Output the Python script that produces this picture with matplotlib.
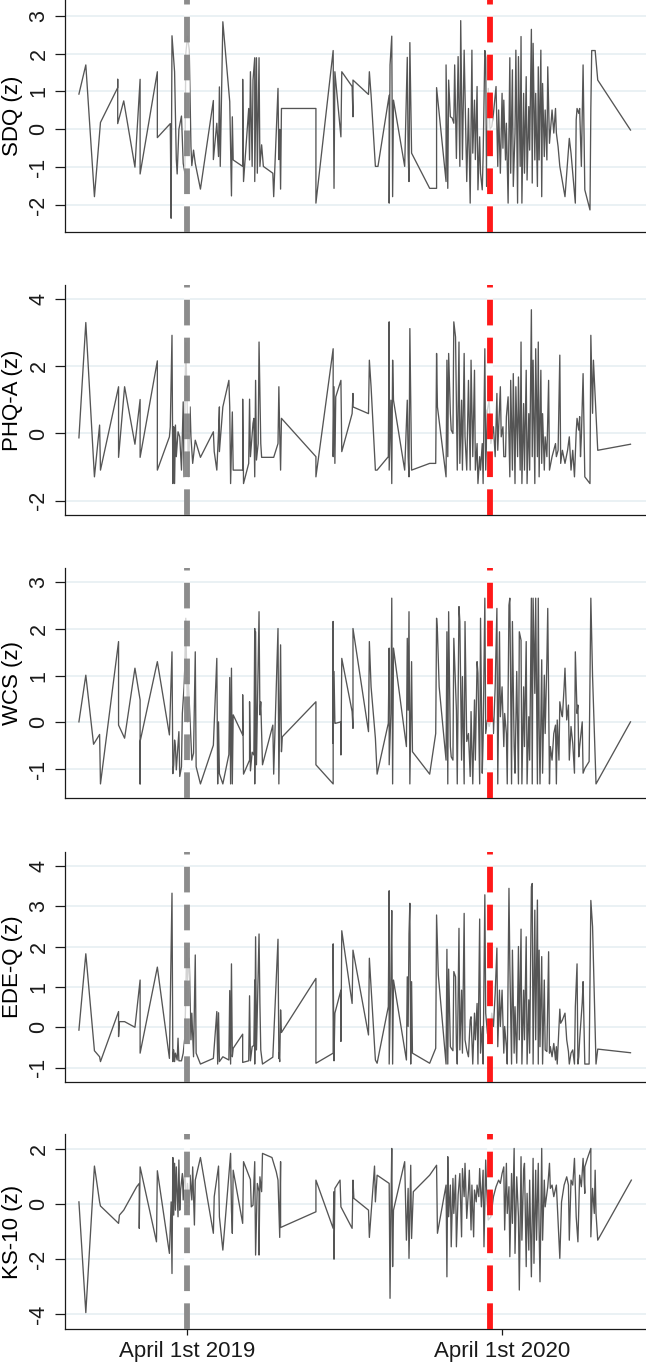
import numpy as np
import matplotlib
matplotlib.use("Agg")
import matplotlib.pyplot as plt

plt.rcParams['font.family'] = ['Liberation Sans', 'DejaVu Sans']

# ---------------- data (day offset from 2019-04-01, z-score) ----------------
sdq_day = [-125, -117, -107, -100, -80, -80, -80, -73, -60, -54,
           -54, -34, -34, -19, -18, -17, -14, -12, -11, -9,
           -6, -4, -2, -1, 1, 3, 5, 6, 8, 10,
           16, 31, 31, 35, 37, 38, 39, 42, 50, 52,
           53, 54, 65, 65, 66, 72, 73, 74, 76, 77,
           79, 79, 81, 82, 84, 85, 87, 89, 100, 101,
           106, 107, 108, 109, 110, 150, 150, 170, 171, 172,
           179, 180, 192, 193, 193, 211, 212, 214, 219, 222,
           235, 235, 236, 238, 239, 240, 253, 256, 257, 258,
           259, 261, 282, 290, 290, 301, 301, 303, 304, 306,
           308, 310, 311, 312, 313, 315, 317, 318, 320, 322,
           323, 325, 327, 329, 331, 332, 334, 335, 337, 338,
           340, 341, 343, 344, 346, 347, 348, 350, 352, 354,
           356, 359, 361, 362, 364, 366, 367, 368, 370, 371,
           373, 375, 376, 378, 379, 381, 382, 384, 385, 387,
           388, 389, 391, 392, 394, 395, 397, 398, 400, 401,
           402, 404, 405, 407, 408, 409, 411, 412, 413, 415,
           416, 418, 419, 421, 424, 426, 428, 429, 431, 433,
           439, 444, 446, 451, 452, 453, 455, 456, 458, 460,
           462, 468, 469, 470, 474, 477, 515]
sdq_z = [0.93, 1.70, -1.78, 0.18, 1.10, 1.32, 0.15, 0.75, -1.00, 1.32,
         -1.18, 1.52, -0.22, 0.15, -2.35, 2.47, 1.52, -0.80, -1.18, 0.00,
         0.35, -0.90, -1.16, 2.00, 2.46, 2.09, -0.46, -0.96, -0.55, -0.90,
         -1.58, 0.76, -0.80, 0.16, -0.72, 1.12, -0.98, 2.84, 0.73, -1.76,
         0.33, -0.81, -0.98, 1.32, -1.38, 0.55, -0.81, 1.52, -0.98, 1.30,
         1.89, -1.38, 1.89, -1.16, 1.89, -0.98, -0.41, -0.98, -1.16, -1.78,
         1.08, -0.80, 0.00, -1.58, 0.55, 0.55, -1.95, 2.08, -1.56, 1.52,
         -0.20, 1.52, 1.13, 0.33, 1.30, 0.92, 1.52, 0.90, -0.98, -0.98,
         0.90, -1.95, 1.70, 2.46, -1.78, 0.77, -0.98, 1.90, -0.63, -1.38,
         2.29, -0.63, -1.56, -1.56, 1.10, -1.38, 1.70, -1.56, 1.30, 0.33,
         0.30, 0.16, 1.70, 0.42, -0.77, 1.92, -0.98, 2.87, -0.80, 2.09,
         0.95, -1.38, 0.55, -1.95, 2.09, -0.63, 0.77, -0.80, 1.13, -1.60,
         -0.20, -1.16, -1.60, -0.72, 2.08, 1.90, -1.51, 1.08, 0.00, 0.07,
         0.42, 1.13, -0.98, 0.51, -1.16, 0.95, -0.50, 0.77, -0.81, 0.16,
         -1.95, 1.89, -1.16, 1.57, -1.51, -0.10, 2.09, -1.95, 1.92, -0.98,
         2.45, -1.95, 0.95, -1.16, 1.39, -1.34, 0.60, -0.55, 2.64, -1.42,
         2.27, -0.81, 0.95, -1.51, 1.65, -0.81, 2.09, -1.78, 1.21, -0.72,
         0.51, -0.81, 1.65, -0.37, 0.51, -0.10, 0.55, -0.10, -0.46, -0.98,
         -1.78, -0.24, -0.63, -1.95, 0.25, 0.55, 0.42, 0.55, -0.98, 1.70,
         -1.60, -2.13, 0.55, 2.08, 2.08, 1.30, -0.02]

phq_day = [-125, -117, -107, -101, -100, -79, -79, -72, -60, -54,
           -54, -34, -34, -20, -19, -17, -16, -15, -15, -14,
           -13, -12, -10, -8, -6, -4, -3, -1, 1, 2,
           4, 5, 7, 10, 16, 31, 32, 35, 37, 38,
           38, 42, 49, 50, 51, 53, 54, 65, 65, 66,
           72, 73, 74, 77, 78, 79, 80, 81, 83, 84,
           86, 87, 101, 106, 107, 108, 109, 110, 150, 150,
           170, 170, 171, 172, 173, 179, 180, 192, 193, 193,
           211, 212, 214, 219, 221, 234, 235, 235, 237, 238,
           239, 240, 253, 256, 257, 258, 259, 261, 282, 289,
           290, 291, 301, 302, 303, 304, 306, 307, 309, 310,
           312, 313, 314, 316, 317, 319, 320, 322, 323, 325,
           327, 329, 330, 332, 334, 335, 337, 338, 340, 341,
           343, 344, 346, 347, 349, 351, 353, 356, 358, 360,
           361, 364, 365, 367, 368, 370, 371, 373, 375, 376,
           378, 379, 381, 382, 384, 385, 387, 388, 389, 391,
           392, 394, 395, 397, 398, 400, 401, 402, 404, 405,
           407, 408, 409, 411, 412, 413, 415, 416, 418, 420,
           421, 424, 426, 428, 429, 431, 433, 434, 436, 439,
           442, 444, 446, 448, 450, 452, 453, 455, 456, 457,
           458, 460, 462, 468, 469, 471, 472, 477, 515]
phq_z = [-0.13, 3.30, -1.29, 0.25, -1.09, 1.39, -0.71, 1.39, -0.32, 1.01,
         -0.71, 2.16, -1.09, -0.10, 0.20, 2.92, -1.49, 0.20, -0.30, -1.49,
         0.25, -0.69, 0.05, -0.10, -1.09, 0.94, -1.29, 2.70, 0.40, -1.29,
         0.79, -0.10, -0.89, -0.20, -0.71, 0.05, -0.54, -1.09, 0.05, 0.79,
         -0.54, 0.79, 1.58, 0.79, -1.49, 0.64, -1.09, -1.09, 1.02, -1.49,
         -0.89, 1.02, -0.69, 0.30, 0.45, -1.29, 1.58, -0.79, -0.30, 2.72,
         -0.30, -0.71, -0.71, -0.30, 1.39, 0.00, -1.09, 0.45, -0.69, -1.29,
         2.52, -0.69, 1.39, -0.89, 1.09, 1.58, -0.54, 0.59, 1.19, 0.79,
         0.59, 2.18, 1.39, -1.09, -1.09, -0.69, 3.32, -1.09, 0.99, -1.49,
         2.18, 0.99, -1.09, 0.99, -0.69, -1.29, 3.12, -1.09, -0.89, -0.89,
         2.38, 0.79, -1.29, 2.18, -0.69, 2.38, 0.59, 0.10, 0.00, 3.32,
         2.87, 0.99, -1.09, 2.72, -0.89, 0.99, -1.09, 2.38, -0.10, -1.09,
         1.58, -1.09, 2.18, -0.69, 1.88, -1.09, -0.30, -1.49, -0.69, -1.09,
         -0.30, -1.49, 2.52, -1.09, 0.69, 0.99, -0.30, 0.20, -0.69, 1.19,
         -0.50, 1.39, -0.10, 0.20, -0.69, -0.69, 0.50, 1.09, -1.29, 1.58,
         -1.09, 1.78, -1.49, 1.39, -0.69, 1.68, -1.09, 2.72, -1.49, 0.89,
         -1.09, 1.88, -1.49, 0.59, -1.09, 3.68, -0.69, 2.18, -1.49, 2.52,
         -0.69, 2.72, -1.29, 1.88, -0.89, 0.59, -1.09, -0.10, -0.69, 1.58,
         -1.09, -0.69, -0.50, -0.30, -0.69, -0.50, 2.33, -0.89, -0.50, -0.89,
         -0.50, -0.10, -1.09, -0.50, -1.29, 0.05, 0.45, 0.10, 0.50, -0.69,
         -0.10, 1.78, -1.29, -1.49, 2.92, 0.60, 2.18, -0.50, -0.32]

wcs_day = [-125, -117, -108, -101, -100, -79, -79, -72, -60, -54,
           -54, -54, -34, -20, -17, -16, -15, -14, -13, -12,
           -10, -9, -8, -6, -5, -3, -2, -1, 1, 2,
           4, 6, 8, 10, 11, 16, 31, 35, 36, 37,
           38, 42, 49, 50, 51, 52, 53, 54, 65, 65,
           66, 73, 73, 74, 76, 78, 79, 79, 80, 81,
           84, 85, 86, 88, 100, 101, 106, 107, 108, 109,
           110, 111, 150, 150, 170, 170, 170, 171, 172, 173,
           179, 179, 180, 192, 193, 193, 211, 212, 214, 219,
           221, 234, 235, 235, 237, 238, 239, 240, 255, 256,
           257, 258, 259, 261, 262, 282, 289, 290, 291, 293,
           301, 302, 303, 304, 306, 307, 309, 310, 312, 313,
           314, 316, 317, 319, 320, 322, 323, 325, 327, 329,
           330, 332, 334, 335, 337, 338, 340, 341, 343, 344,
           346, 347, 349, 351, 352, 354, 356, 358, 360, 361,
           363, 364, 366, 368, 369, 371, 372, 374, 375, 377,
           378, 380, 381, 383, 385, 386, 388, 389, 391, 392,
           394, 395, 397, 398, 400, 401, 402, 404, 405, 407,
           408, 409, 410, 412, 413, 415, 416, 418, 419, 421,
           422, 424, 426, 428, 429, 430, 432, 433, 435, 436,
           438, 439, 441, 443, 444, 446, 448, 450, 451, 453,
           454, 455, 456, 459, 460, 462, 467, 469, 471, 475, 515]
wcs_z = [0.01, 1.01, -0.47, -0.26, -1.32, 1.73, -0.06, -0.34, 1.16, 0.48,
         -1.32, -0.41, 1.30, -0.27, 1.51, -1.10, -0.91, -0.38, -0.52, -1.02,
         -0.49, -0.20, -1.16, -0.95, 0.19, 0.76, 1.26, 2.23, 0.00, 0.87,
         0.05, -0.81, -0.66, 1.51, -0.95, -1.32, -0.49, 1.37, -1.32, 0.01,
         -1.10, -1.32, -0.69, 0.96, -1.32, 1.16, -1.32, 0.16, -0.27, 0.59,
         -1.11, -0.81, 0.44, -1.04, -0.64, -0.70, 2.01, -1.32, 1.94, -0.91,
         2.37, 0.16, 0.44, -0.91, -0.06, -1.11, 2.01, -1.32, 0.26, 1.66,
         -0.63, -0.31, 0.44, -0.91, -1.32, 2.16, -0.45, 1.09, -0.02, -0.02,
         0.01, -0.70, 1.37, 0.23, -0.13, 2.01, -0.20, 1.73, 0.76, -0.34,
         -1.11, -0.02, 1.59, -0.91, 0.19, 2.66, -1.32, 1.59, -0.52, 1.80,
         0.26, 2.37, -1.32, 1.30, -0.63, -1.11, -0.24, 2.23, 1.94, 0.76,
         -0.81, 1.94, -1.32, 2.37, -0.52, -0.74, -0.81, 1.80, 0.76, 0.26,
         -1.32, 2.48, 2.16, -0.81, 0.98, -1.32, 2.16, -0.41, -0.24, -1.16,
         0.23, -1.32, 0.48, -0.81, 1.30, 1.05, -1.32, 2.23, -1.09, -0.38,
         2.66, -0.24, 0.05, -0.09, -0.02, 0.34, -0.24, 0.76, 2.44, -1.32,
         1.94, 0.12, 0.76, -0.52, 0.19, -0.24, -1.32, 2.51, 2.66, -1.32,
         2.16, -0.52, -1.09, 1.09, -1.32, 1.94, 1.76, -1.32, 0.76, -0.52,
         1.73, -1.32, 0.12, -0.81, 2.66, -1.32, 2.66, 0.62, 2.66, -1.32,
         2.66, -0.09, -1.32, 1.34, -1.09, 1.01, -0.24, 1.34, 2.44, -1.32,
         -0.52, -0.81, -0.24, -0.06, -1.32, 0.05, -0.81, 0.44, 0.19, 0.12,
         0.76, 1.16, 0.05, 0.37, -0.81, -0.09, -0.45, -1.09, 1.51, 0.19,
         0.37, -0.74, -0.52, 0.01, -1.09, -0.99, -0.84, 2.66, 0.98, -1.32, 0.01]

edeq_day = [-125, -117, -107, -101, -100, -79, -79, -78, -72, -60,
            -54, -54, -34, -20, -17, -16, -15, -14, -13, -11,
            -10, -9, -6, -4, -2, 0, 1, 3, 5, 6,
            8, 10, 11, 16, 31, 35, 36, 37, 38, 42,
            49, 50, 51, 52, 53, 54, 65, 65, 72, 73,
            74, 76, 78, 79, 79, 80, 81, 84, 85, 86,
            88, 100, 106, 107, 107, 108, 109, 110, 150, 150,
            170, 170, 170, 171, 172, 179, 179, 180, 192, 193,
            211, 212, 219, 221, 234, 235, 235, 237, 238, 239,
            240, 255, 256, 257, 258, 259, 260, 261, 262, 282,
            289, 290, 292, 301, 302, 303, 304, 306, 307, 309,
            310, 312, 313, 314, 316, 317, 319, 320, 322, 323,
            325, 327, 329, 330, 332, 334, 335, 337, 338, 340,
            341, 343, 344, 346, 347, 349, 351, 352, 354, 356,
            358, 360, 361, 363, 364, 366, 368, 369, 371, 372,
            374, 375, 377, 378, 380, 381, 383, 385, 386, 388,
            389, 391, 392, 394, 395, 397, 398, 400, 401, 402,
            404, 405, 407, 408, 409, 410, 412, 413, 415, 416,
            418, 420, 421, 422, 424, 426, 428, 429, 430, 433,
            434, 436, 439, 441, 443, 444, 446, 448, 450, 451,
            453, 454, 455, 456, 459, 460, 462, 467, 469, 471,
            475, 477, 515]
edeq_z = [-0.07, 1.82, -0.58, -0.73, -0.85, 0.39, -0.23, 0.14, 0.14, 0.00,
          1.17, -0.64, 1.49, -0.77, 3.32, -0.85, -0.56, -0.85, -0.64, -0.81,
          -0.27, -0.83, -0.83, -0.64, -0.23, 1.96, 1.17, 1.71, -0.31, 0.35,
          -0.73, 1.79, -0.64, -0.91, -0.77, 0.39, -0.91, 0.36, -0.85, -0.73,
          -0.81, 0.91, -0.91, 1.57, -0.73, -0.52, -0.17, -0.87, -0.83, 0.78,
          -0.83, -0.48, -0.45, 1.17, -0.91, 2.24, -0.56, 2.31, 0.59, -0.56,
          -0.91, -0.74, 2.18, -0.77, -0.64, -0.85, 0.43, -0.13, 1.21, -0.89,
          -0.64, 2.06, 1.50, -0.83, 0.35, 0.92, -0.35, 2.39, 0.59, 1.91,
          -0.19, 1.71, -0.81, -0.89, 0.51, 3.38, -0.91, 1.25, 2.89, -0.91,
          1.17, -0.81, 1.25, 0.02, 2.31, 3.07, -0.91, 1.13, -0.64, -0.89,
          -0.52, 2.78, 1.30, -0.91, 1.93, -0.91, 1.44, -0.48, -0.52, -0.58,
          1.38, 1.25, -0.48, -0.91, 2.45, -0.56, 0.92, -0.64, 2.82, -0.31,
          -0.56, -0.73, 0.18, 0.26, -0.91, 0.35, -0.31, 0.59, -0.91, 2.68,
          -0.64, 0.02, -0.91, 3.28, 0.35, -0.15, -0.31, -0.15, 0.35, 0.02,
          0.84, 1.96, -0.48, 0.92, 0.02, 0.92, -0.64, 0.02, -0.48, -0.91,
          3.44, 1.54, -0.91, 1.91, -0.64, 0.51, -0.89, 2.00, -0.31, 2.43,
          -0.91, 0.92, -0.31, 2.24, -0.91, 0.68, -0.64, 3.48, 3.56, -0.91,
          2.90, -0.31, 3.15, -0.91, 1.91, -0.48, 1.75, -0.91, 1.17, -0.56,
          -0.60, 1.87, -0.64, -0.48, -0.73, -0.40, -0.81, -0.48, -0.91, 0.45,
          0.10, 0.18, 0.35, -0.31, -0.60, -0.91, -0.64, -0.56, -0.91, 0.51,
          1.57, -0.91, -0.73, -0.31, 0.61, 1.13, -0.91, -0.91, 3.14, 2.49,
          -0.91, -0.54, -0.63]

ks_day = [-125, -117, -107, -101, -100, -79, -78, -73, -58, -55,
          -55, -54, -35, -34, -20, -18, -17, -16, -15, -14,
          -13, -12, -10, -9, -8, -7, -5, -4, -3, -2,
          0, 1, 3, 4, 6, 7, 9, 10, 16, 31,
          32, 37, 38, 42, 51, 52, 53, 54, 65, 66,
          74, 75, 77, 79, 80, 82, 84, 84, 85, 87,
          88, 99, 101, 104, 106, 107, 108, 109, 109, 150,
          150, 170, 171, 171, 172, 178, 179, 192, 193, 194,
          211, 212, 218, 219, 221, 235, 236, 237, 238, 239,
          240, 253, 255, 257, 258, 260, 261, 263, 282, 290,
          291, 301, 302, 303, 304, 306, 307, 309, 310, 312,
          313, 315, 317, 319, 320, 322, 323, 325, 327, 328,
          330, 331, 333, 334, 336, 337, 339, 340, 342, 344,
          345, 347, 348, 350, 353, 356, 359, 362, 364, 366,
          368, 369, 371, 372, 374, 375, 377, 378, 380, 381,
          383, 385, 386, 388, 389, 391, 392, 394, 395, 397,
          398, 400, 402, 403, 405, 406, 408, 409, 410, 412,
          413, 415, 416, 418, 419, 421, 422, 424, 426, 429,
          433, 435, 438, 441, 443, 444, 446, 448, 450, 452,
          454, 456, 458, 460, 462, 462, 465, 469, 469, 471,
          473, 474, 475, 477, 516]
ks_z = [0.08, -3.94, 1.38, 0.08, -0.07, -0.70, -0.40, -0.22, 0.63, 0.75,
        -0.88, 1.35, -1.37, 1.21, -1.79, 0.08, -2.52, 1.69, -0.40, 1.48,
        -0.22, 1.35, -0.46, 1.60, -0.22, 0.51, 1.11, 0.15, 0.87, 1.23,
        -0.22, 0.75, -0.10, 1.05, 0.15, 1.35, -0.76, 0.87, 1.69, -1.06,
        0.27, 1.38, -0.46, -1.67, 1.84, -0.22, -1.06, 1.23, -0.70, 1.54,
        0.89, -0.10, -0.04, 1.54, -1.85, 0.75, 0.45, -1.85, 0.99, 0.45,
        1.84, 1.69, 1.48, 1.17, 0.87, -0.22, -1.21, 1.54, -0.85, -0.28,
        0.87, -0.88, 0.45, -2.00, 0.57, 0.87, -0.10, -0.88, 0.87, 0.21,
        -0.22, -1.21, 1.38, 0.08, 1.05, 0.75, -3.42, -0.22, 2.02, -2.27,
        -0.22, 1.54, -1.31, 0.57, -1.97, 1.41, -1.25, 0.45, 1.05, 1.41,
        -1.06, 0.69, -2.64, 1.72, -0.46, 0.69, -1.55, 0.93, -0.34, 1.05,
        -1.55, 0.33, 1.11, -1.19, 1.29, 0.27, 1.48, -0.52, 0.51, 1.23,
        -0.94, 0.69, -1.19, 0.51, 0.08, 0.69, 0.27, 1.29, -0.10, 1.23,
        -1.55, 1.60, 0.63, -0.58, -0.46, 0.27, 0.63, 0.87, 0.75, 1.11,
        1.35, -0.94, 1.48, -0.34, 0.63, -1.91, 1.11, -0.70, 2.02, -1.79,
        0.99, -0.46, -3.12, 1.72, -1.31, 1.23, 1.48, -2.27, 0.39, -1.67,
        0.87, -2.64, 1.66, -2.15, 1.23, -1.31, 1.48, -0.94, -2.82, 2.02,
        -1.31, 0.87, -0.10, 0.39, 0.63, 1.48, 0.57, 0.69, 0.27, 0.69,
        -1.97, 0.08, 0.69, 0.99, 0.69, -1.31, 0.87, 0.69, 1.66, -0.46,
        -1.37, 1.05, 0.63, 1.66, 0.39, 1.35, 1.66, 2.02, -1.19, 0.57,
        -0.34, 1.23, -0.34, -1.31, 0.87]

panel_labels = ["SDQ (z)", "PHQ-A (z)", "WCS (z)", "EDE-Q (z)", "KS-10 (z)"]
panel_days = [sdq_day, phq_day, wcs_day, edeq_day, ks_day]
panel_vals = [sdq_z, phq_z, wcs_z, edeq_z, ks_z]
panel_yticks = [[-2, -1, 0, 1, 2, 3], [-2, 0, 2, 4], [-1, 0, 1, 2, 3],
                [-1, 0, 1, 2, 3, 4], [-4, -2, 0, 2]]
panel_ylim = [(-2.705, 3.415), (-2.425, 4.416), (-1.628, 3.30),
              (-1.347, 4.347), (-4.534, 2.544)]

base_date = np.datetime64("2019-04-01")
event_dates = [np.datetime64("2019-04-01"), np.datetime64("2020-03-18")]
event_colors = ["#808080", "#ff0000"]
xtick_dates = [np.datetime64("2019-04-01"), np.datetime64("2020-04-01")]
xtick_labels = ["April 1st 2019", "April 1st 2020"]

# ---------------- layout (pixels in a 646x1366 canvas) ----------------
W, H = 646, 1366
fig = plt.figure(figsize=(W / 100, H / 100), dpi=100)
left_px, right_px = 64.7, 646
tops = [0, 285, 568.3, 851.7, 1134]
bots = [231.7, 515, 798.3, 1081.7, 1329]

x_lo = base_date + np.timedelta64(int(-141.5 * 24), 'h')
x_hi = base_date + np.timedelta64(int(533 * 24), 'h')

line_col = "#555555"
grid_col = "#e4eef1"

for i in range(5):
    assert len(panel_days[i]) == len(panel_vals[i])
    ax = fig.add_axes([left_px / W, 1 - bots[i] / H, (right_px - left_px) / W,
                       (bots[i] - tops[i]) / H])
    dates = base_date + np.array(panel_days[i]).astype('timedelta64[D]')
    for t in panel_yticks[i]:
        ax.axhline(t, color=grid_col, lw=1.1, zorder=0)
    ax.plot(dates, panel_vals[i], color=line_col, lw=0.95, zorder=2)
    for d, c in zip(event_dates, event_colors):
        ax.axvline(d, color="white", lw=4.2, alpha=0.75, zorder=3)
        ax.axvline(d, color=c, lw=4.2, alpha=0.9, zorder=4,
                   dashes=(4.4, 2.1))
    ax.set_xlim(x_lo, x_hi)
    ax.set_ylim(*panel_ylim[i])
    ax.set_yticks(panel_yticks[i])
    ax.set_yticklabels([str(t) for t in panel_yticks[i]], rotation=90,
                       va='center', fontsize=15.5)
    ax.set_ylabel(panel_labels[i], fontsize=16, labelpad=4)
    for s in ["top", "right"]:
        ax.spines[s].set_visible(False)
    for s in ["left", "bottom"]:
        ax.spines[s].set_linewidth(0.9)
        ax.spines[s].set_color("#1a1a1a")
    ax.tick_params(axis='y', direction='out', length=7, width=0.9, pad=4,
                   colors="#1a1a1a")
    if i < 4:
        ax.set_xticks([])
    else:
        ax.set_xticks(xtick_dates)
        ax.set_xticklabels(xtick_labels, fontsize=16)
        ax.tick_params(axis='x', direction='out', length=4, width=0.9, pad=5,
                       colors="#1a1a1a")

fig.savefig("out.png", dpi=100)
